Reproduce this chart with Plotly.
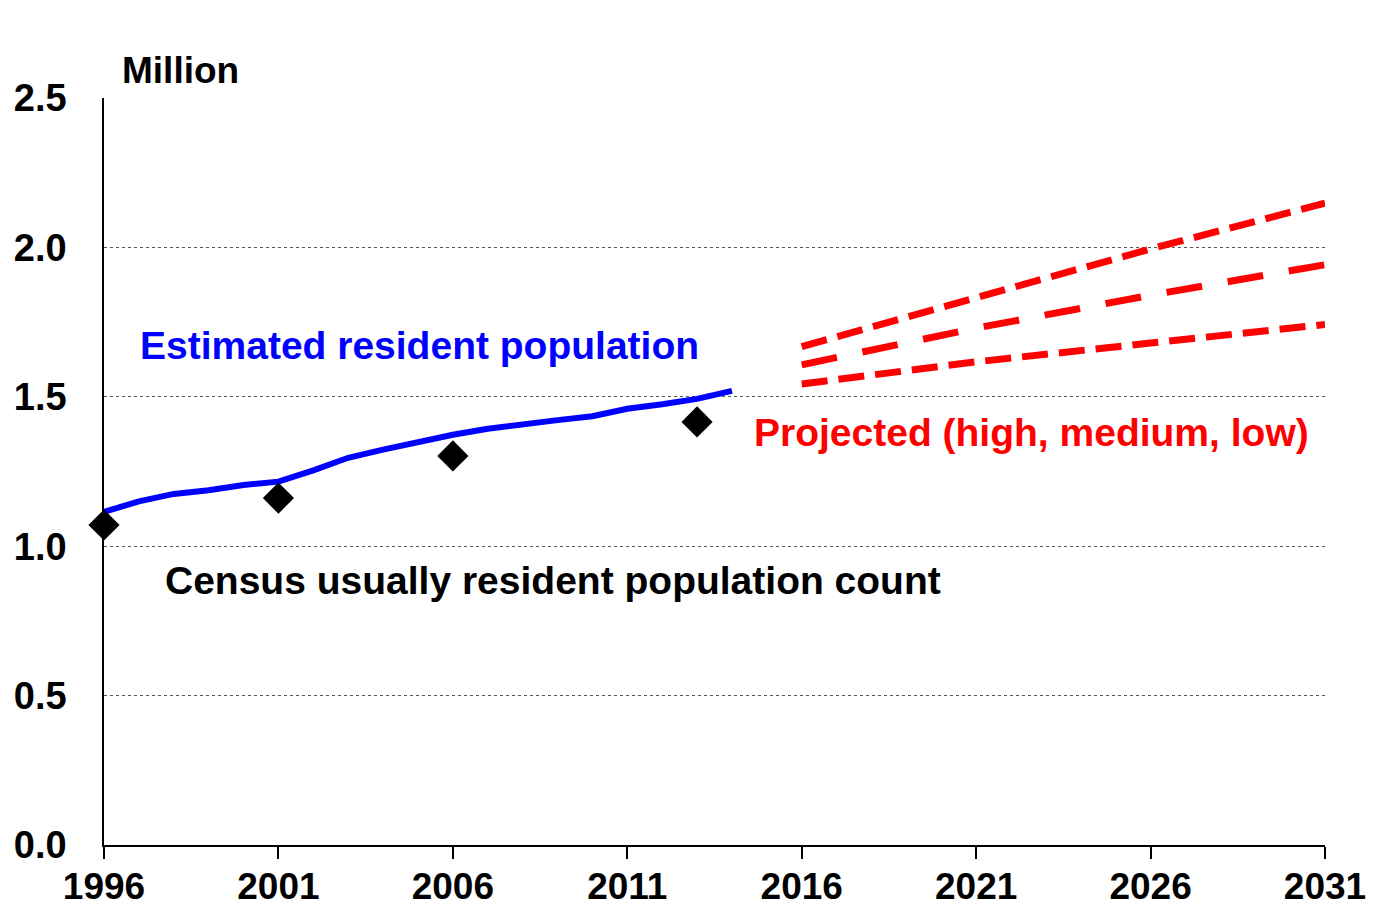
import plotly.graph_objects as go

# Estimated resident population (million)
erp_years = list(range(1996, 2015))
erp_values = [1.115, 1.150, 1.175, 1.187, 1.205, 1.216, 1.254, 1.296, 1.323, 1.350,
              1.373, 1.393, 1.405, 1.422, 1.435, 1.460, 1.475, 1.493, 1.520]

# Census usually resident population count (million)
census_years = [1996, 2001, 2006, 2013]
census_values = [1.071, 1.161, 1.302, 1.416]

# Projections (million)
proj_years = [2016, 2021, 2026, 2031]
proj_high = [1.668, 1.830, 1.995, 2.148]
proj_medium = [1.607, 1.730, 1.840, 1.942]
proj_low = [1.543, 1.617, 1.680, 1.742]

FONT = "Liberation Sans, Arial, sans-serif"

fig = go.Figure()

fig.add_trace(go.Scatter(
    x=proj_years, y=proj_high, mode="lines",
    line=dict(color="#ff0000", width=7, dash="26px,11px"),
))
fig.add_trace(go.Scatter(
    x=proj_years, y=proj_medium, mode="lines",
    line=dict(color="#ff0000", width=7, dash="36px,26px"),
))
fig.add_trace(go.Scatter(
    x=proj_years, y=proj_low, mode="lines",
    line=dict(color="#ff0000", width=7, dash="26px,11px"),
))
fig.add_trace(go.Scatter(
    x=erp_years, y=erp_values, mode="lines",
    line=dict(color="#0000ff", width=6),
))
fig.add_trace(go.Scatter(
    x=census_years, y=census_values, mode="markers",
    marker=dict(symbol="diamond", size=24, color="black"),
    cliponaxis=False,
))

fig.add_annotation(x=1996.97, y=1.673, text="Estimated resident population",
                   showarrow=False, xanchor="left", yanchor="middle",
                   font=dict(family=FONT, size=39, color="#0000ff", weight="bold"))
fig.add_annotation(x=2014.57, y=1.379, text="Projected (high, medium, low)",
                   showarrow=False, xanchor="left", yanchor="middle",
                   font=dict(family=FONT, size=39, color="#ff0000", weight="bold"))
fig.add_annotation(x=1997.69, y=0.884, text="Census usually resident population count",
                   showarrow=False, xanchor="left", yanchor="middle",
                   font=dict(family=FONT, size=39, color="black", weight="bold"))
fig.add_annotation(x=0.013, y=1.0, xref="paper", yref="paper", text="Million",
                   showarrow=False, xanchor="left", yanchor="middle", yshift=28,
                   font=dict(family=FONT, size=37, color="black", weight="bold"))

fig.update_layout(
    width=1375, height=909,
    margin=dict(l=96, r=58, t=90, b=72),
    paper_bgcolor="white", plot_bgcolor="white",
    showlegend=False,
    font=dict(family=FONT, color="black"),
)
fig.update_xaxes(
    range=[1996, 2031], tickvals=list(range(1996, 2032, 5)),
    showgrid=False, zeroline=False, automargin=False,
    showline=True, linecolor="black", linewidth=1.5,
    ticks="outside", ticklen=12, tickcolor="black", tickwidth=1.5,
    ticklabelstandoff=-4,
    tickfont=dict(family=FONT, size=37, weight="bold"),
)
fig.update_yaxes(
    range=[0, 2.5], tickvals=[0, 0.5, 1.0, 1.5, 2.0, 2.5], tickformat=".1f",
    showgrid=True, gridcolor="#555555", griddash="dot", gridwidth=1,
    zeroline=False, showline=True, linecolor="black", linewidth=1.5,
    ticks="", ticklabelstandoff=28, automargin=False,
    tickfont=dict(family=FONT, size=38, weight="bold"),
)

fig.write_html("out.html")
